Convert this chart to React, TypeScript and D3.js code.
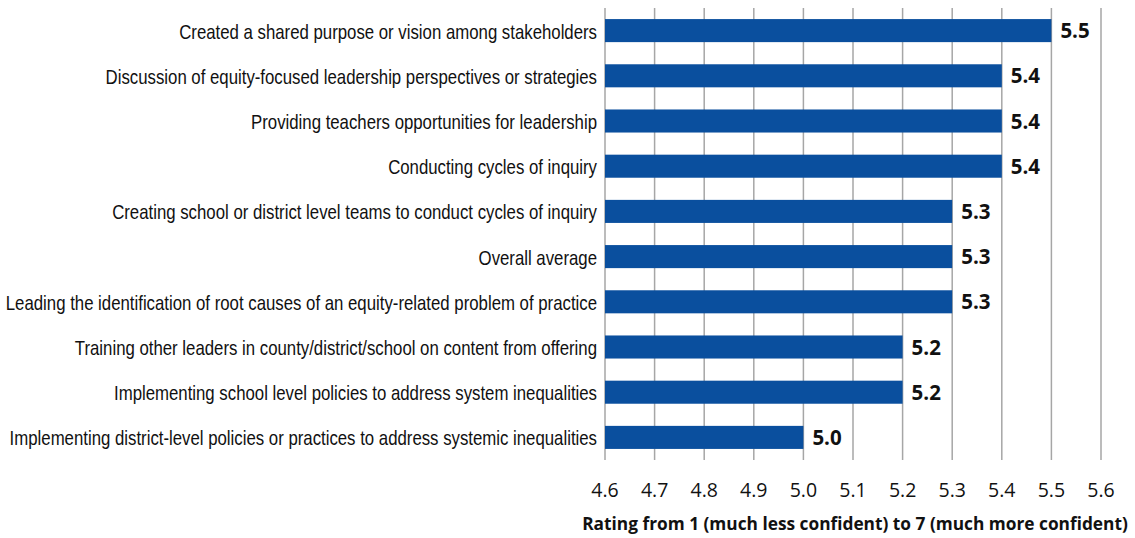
import React, { useLayoutEffect, useRef, useState } from "react";
import * as d3 from "d3";

const categories = [
  "Created a shared purpose or vision among stakeholders",
  "Discussion of equity-focused leadership perspectives or strategies",
  "Providing teachers opportunities for leadership ",
  "Conducting cycles of inquiry",
  "Creating school or district level teams to conduct cycles of inquiry ",
  "Overall average",
  "Leading the identification of root causes of an equity-related problem of practice",
  "Training other leaders in county/district/school on content from offering ",
  "Implementing school level policies to address system inequalities",
  "Implementing district-level policies or practices to address systemic inequalities",
];
const values = [5.5, 5.4, 5.4, 5.4, 5.3, 5.3, 5.3, 5.2, 5.2, 5.0];
const tickValues = [4.6, 4.7, 4.8, 4.9, 5.0, 5.1, 5.2, 5.3, 5.4, 5.5, 5.6];
const axisTitle = "Rating from 1 (much less confident) to 7 (much more confident)";

export default function App() {
  const W = 1135;
  const H = 538;
  const x = d3.scaleLinear().domain([4.6, 5.6]).range([605, 1101]);
  const y = d3
    .scaleBand<string>()
    .domain(categories)
    .range([8, 460])
    .paddingInner(0.49)
    .paddingOuter(0.245);
  const labelFont = "'Liberation Sans', Arial, sans-serif";
  const labelSize = 20.5;
  const measureRef = useRef<SVGTextElement>(null);
  const [sx, setSx] = useState(0.7);
  useLayoutEffect(() => {
    if (measureRef.current) {
      const w = measureRef.current.getComputedTextLength();
      if (w > 0) setSx(588 / w);
    }
  }, []);
  return (
    <svg
      width={W}
      height={H}
      style={{ position: "absolute", left: 0, top: 0, background: "#fff" }}
    >
      <text
        ref={measureRef}
        x={-2000}
        y={-100}
        fontFamily={labelFont}
        fontSize={labelSize}
        style={{ visibility: "hidden" }}
      >
        {categories[9]}
      </text>
      {tickValues.map((t) => (
        <line
          key={"g" + t}
          x1={x(t)}
          x2={x(t)}
          y1={8}
          y2={460}
          stroke="#a6a6a6"
          strokeWidth={1.5}
        />
      ))}
      {categories.map((c, i) => {
        const yy = y(c)!;
        const bw = y.bandwidth();
        return (
          <g key={c}>
            <rect
              x={x(4.6)}
              y={yy}
              width={x(values[i]) - x(4.6)}
              height={bw}
              fill="#0a4f9e"
            />
            <text
              transform={`translate(597,${yy + bw / 2 + 8}) scale(${sx},1)`}
              textAnchor="end"
              fontFamily={labelFont}
              fontSize={labelSize}
              fill="#111"
            >
              {c}
            </text>
            <text
              x={x(values[i]) + 9}
              y={yy + bw / 2 + 7.5}
              fontFamily="'Open Sans', 'Liberation Sans', sans-serif"
              fontWeight="bold"
              fontSize={20.5}
              fill="#111"
            >
              {values[i].toFixed(1)}
            </text>
          </g>
        );
      })}
      {tickValues.map((t) => (
        <text
          key={"t" + t}
          x={x(t)}
          y={497}
          textAnchor="middle"
          fontFamily="'Open Sans', 'Liberation Sans', sans-serif"
          fontSize={19.5}
          fill="#111"
        >
          {t.toFixed(1)}
        </text>
      ))}
      <text
        x={855}
        y={530}
        textAnchor="middle"
        fontFamily="'Open Sans', 'Liberation Sans', sans-serif"
        fontWeight="bold"
        fontSize={17.3}
        fill="#111"
      >
        {axisTitle}
      </text>
    </svg>
  );
}
